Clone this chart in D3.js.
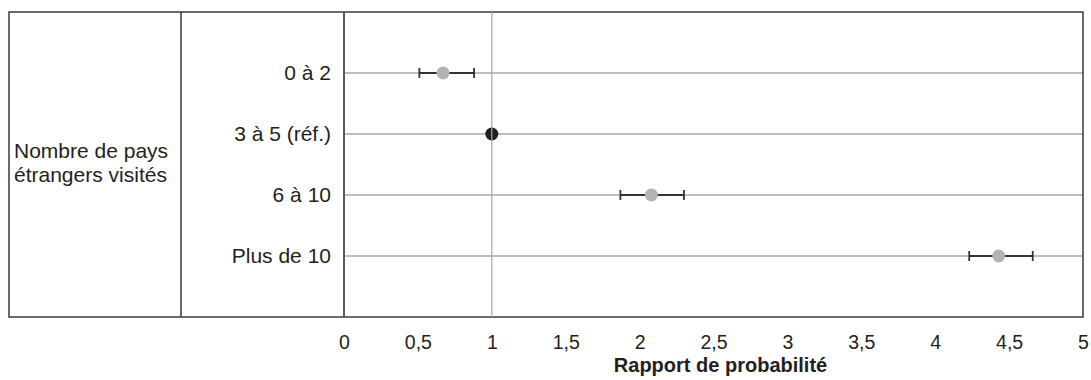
<!DOCTYPE html>
<html>
<head>
<meta charset="utf-8">
<title>Rapport de probabilité</title>
<script src="https://d3js.org/d3.v7.min.js"></script>
<style>
body { margin: 0; background: #fff; }
text { font-family: "Liberation Sans", Arial, sans-serif; fill: #231f20; }
</style>
</head>
<body>
<script>

// donnees
var categories = ["0 à 2", "3 à 5 (réf.)", "6 à 10", "Plus de 10"];
var estimates = [0.67, 1, 2.08, 4.43];
var lowerCI = [0.51, null, 1.87, 4.23];
var upperCI = [0.88, null, 2.30, 4.66];
var isReference = [false, true, false, false];
var xTicks = [0, 0.5, 1, 1.5, 2, 2.5, 3, 3.5, 4, 4.5, 5];
var groupLabel = ["Nombre de pays", "étrangers visités"];
var xTitle = "Rapport de probabilité";

var width = 1091, height = 380;
var boxLeft = 9, boxTop = 12, boxBottom = 317, divider = 181;
var plotLeft = 344, plotRight = 1083;

var svg = d3.select("body").append("svg")
  .attr("width", width)
  .attr("height", height);

var fr = d3.formatLocale({decimal: ",", thousands: " ", grouping: [3], currency: ["", " €"]});
var fmt = fr.format("~g");

var x = d3.scaleLinear().domain([0, 5]).range([plotLeft, plotRight]);
// 5 bandes : lignes aux positions 1..4
var y = d3.scaleLinear().domain([0, categories.length + 1]).range([boxTop, boxBottom]);

// lignes de grille horizontales
svg.selectAll(".hgrid").data(categories).enter().append("line")
  .attr("x1", plotLeft).attr("x2", plotRight)
  .attr("y1", function(d, i) { return y(i + 1); })
  .attr("y2", function(d, i) { return y(i + 1); })
  .attr("stroke", "#a7a9ac").attr("stroke-width", 1.5);

// cadre
svg.append("rect")
  .attr("x", boxLeft).attr("y", boxTop)
  .attr("width", plotRight - boxLeft).attr("height", boxBottom - boxTop)
  .attr("fill", "none").attr("stroke", "#3a3a3a").attr("stroke-width", 1.5);
svg.append("line")
  .attr("x1", divider).attr("x2", divider)
  .attr("y1", boxTop).attr("y2", boxBottom)
  .attr("stroke", "#3a3a3a").attr("stroke-width", 1.5);
svg.append("line")
  .attr("x1", plotLeft).attr("x2", plotLeft)
  .attr("y1", boxTop).attr("y2", boxBottom)
  .attr("stroke", "#58595b").attr("stroke-width", 2);

// axe x (etiquettes seulement)
var xAxis = d3.axisBottom(x).tickValues(xTicks).tickFormat(fmt).tickSize(0).tickPadding(0);
var gx = svg.append("g").attr("transform", "translate(0," + 335 + ")").call(xAxis);
gx.select(".domain").remove();
gx.attr("font-family", null).attr("font-size", null);
gx.selectAll("text")
  .attr("dy", "0.71em")
  .style("font-size", "19.5px")
  .attr("fill", "#231f20");

svg.append("text")
  .attr("x", (plotLeft + plotRight) / 2 + 7)
  .attr("y", 372)
  .attr("text-anchor", "middle")
  .style("font-size", "20px")
  .style("font-weight", "bold")
  .text(xTitle);

// etiquettes des categories
svg.selectAll(".cat").data(categories).enter().append("text")
  .attr("x", 331)
  .attr("y", function(d, i) { return y(i + 1); })
  .attr("dy", "0.35em")
  .attr("text-anchor", "end")
  .style("font-size", "21px")
  .text(function(d) { return d; });

// etiquette du groupe
svg.append("text")
  .attr("x", 14)
  .attr("y", (boxTop + boxBottom) / 2)
  .style("font-size", "21px")
  .selectAll("tspan").data(groupLabel).enter().append("tspan")
    .attr("x", 14)
    .attr("dy", function(d, i) { return i === 0 ? "-0.3em" : "1.12em"; })
    .text(function(d) { return d; });

// intervalles de confiance
var capH = 5;
var bars = svg.selectAll(".ci").data(categories).enter().append("g")
  .filter(function(d, i) { return lowerCI[i] !== null; });
bars.append("line")
  .attr("x1", function(d) { return x(lowerCI[categories.indexOf(d)]); })
  .attr("x2", function(d) { return x(upperCI[categories.indexOf(d)]); })
  .attr("y1", function(d) { return y(categories.indexOf(d) + 1); })
  .attr("y2", function(d) { return y(categories.indexOf(d) + 1); })
  .attr("stroke", "#333").attr("stroke-width", 1.8);
[lowerCI, upperCI].forEach(function(arr) {
  bars.append("line")
    .attr("x1", function(d) { return x(arr[categories.indexOf(d)]); })
    .attr("x2", function(d) { return x(arr[categories.indexOf(d)]); })
    .attr("y1", function(d) { return y(categories.indexOf(d) + 1) - capH; })
    .attr("y2", function(d) { return y(categories.indexOf(d) + 1) + capH; })
    .attr("stroke", "#333").attr("stroke-width", 1.8);
});

// points
svg.selectAll(".pt").data(estimates).enter().append("circle")
  .attr("cx", function(d) { return x(d); })
  .attr("cy", function(d, i) { return y(i + 1); })
  .attr("r", 6.5)
  .attr("fill", function(d, i) { return isReference[i] ? "#231f20" : "#b1b3b6"; });

// ligne verticale au rapport 1 (par-dessus le point de reference)
svg.append("line")
  .attr("x1", x(1)).attr("x2", x(1))
  .attr("y1", boxTop).attr("y2", boxBottom)
  .attr("stroke", "#a7a9ac").attr("stroke-width", 1.2);

</script>
</body>
</html>
